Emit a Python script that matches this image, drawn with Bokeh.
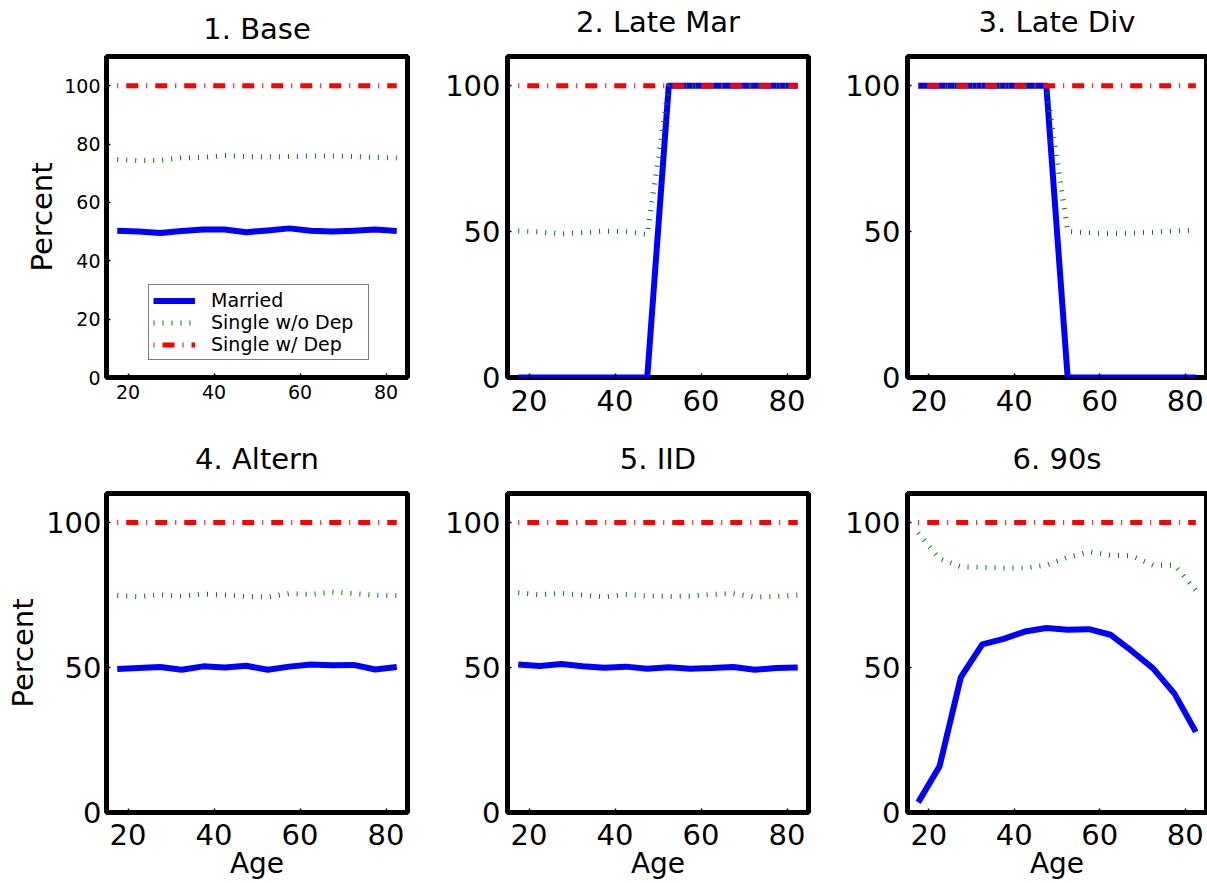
from bokeh.plotting import figure
from bokeh.models import Range1d, FixedTicker, Label
from bokeh.layouts import gridplot
from bokeh.embed import file_html
from bokeh.resources import INLINE

FONT = "DejaVu Sans"

ages = [17.5, 22.5, 27.5, 32.5, 37.5, 42.5, 47.5, 52.5, 57.5, 62.5, 67.5, 72.5, 77.5, 82.5]

titles = ["1. Base", "2. Late Mar", "3. Late Div", "4. Altern", "5. IID", "6. 90s"]
series_names = ["Married", "Single w/o Dep", "Single w/ Dep"]

married = {
    "1. Base":     [50.3, 50.0, 49.5, 50.2, 50.7, 50.7, 49.8, 50.4, 51.1, 50.3, 50.0, 50.3, 50.7, 50.2],
    "2. Late Mar": [0, 0, 0, 0, 0, 0, 0, 100, 100, 100, 100, 100, 100, 100],
    "3. Late Div": [100, 100, 100, 100, 100, 100, 100, 0, 0, 0, 0, 0, 0, 0],
    "4. Altern":   [49.5, 49.8, 50.2, 49.2, 50.4, 50.0, 50.6, 49.2, 50.3, 51.0, 50.8, 50.9, 49.3, 50.2],
    "5. IID":      [51.0, 50.5, 51.2, 50.4, 49.9, 50.3, 49.6, 50.1, 49.6, 49.8, 50.2, 49.2, 49.8, 50.0],
    "6. 90s":      [3.5, 15.9, 46.7, 58.0, 59.9, 62.4, 63.6, 63.0, 63.2, 61.3, 55.7, 49.7, 41.0, 27.8],
}
single_nodep = {
    "1. Base":     [74.7, 74.3, 74.4, 75.3, 75.4, 76.1, 75.7, 75.6, 75.7, 75.9, 75.9, 75.7, 75.4, 75.2],
    "2. Late Mar": [50.2, 49.9, 49.2, 49.6, 50.2, 50.0, 49.0, 100, 100, 100, 100, 100, 100, 100],
    "3. Late Div": [100, 100, 100, 100, 100, 100, 100, 50.0, 49.6, 49.3, 49.5, 49.8, 50.2, 50.5],
    "4. Altern":   [74.8, 74.4, 75.1, 74.6, 75.3, 75.0, 74.5, 74.3, 75.5, 75.2, 76.0, 75.5, 74.9, 74.8],
    "5. IID":      [75.8, 75.1, 75.6, 75.0, 74.3, 75.2, 74.7, 74.5, 74.6, 75.2, 75.5, 74.3, 74.5, 75.0],
    "6. 90s":      [96.4, 87.5, 84.7, 84.5, 84.3, 84.3, 85.3, 88.0, 89.9, 88.7, 88.5, 85.3, 85.3, 76.6],
}
single_dep = {
    "1. Base":     [100] * 14,
    "2. Late Mar": [100] * 14,
    "3. Late Div": [100] * 14,
    "4. Altern":   [100] * 14,
    "5. IID":      [100] * 14,
    "6. 90s":      [100] * 14,
}

x_ticks = [20, 40, 60, 80]
y_ticks_base = [0, 20, 40, 60, 80, 100]
y_ticks_other = [0, 50, 100]

col_w = [412, 401, 394]
col_bl = [106, 95, 94]
col_br = [5, 5, 1]
strip_h = [52, 59]
title_y = [[24, 31, 31], [31, 31, 31]]   # title anchor height inside the title strip
row_h = [378, 394]
row_bt = [4, 4]
row_bb = [53, 71]


def make_strip(i):
    r, c = divmod(i, 3)
    h = strip_h[r]
    s = figure(width=col_w[c], height=h,
               x_range=Range1d(0, 1), y_range=Range1d(0, h),
               x_axis_location=None, y_axis_location=None,
               output_backend="svg", toolbar_location=None,
               min_border_left=col_bl[c], min_border_right=col_br[c],
               min_border_top=0, min_border_bottom=0)
    s.outline_line_color = None
    s.xgrid.visible = False
    s.ygrid.visible = False
    s.background_fill_color = "white"
    s.border_fill_color = "white"
    s.add_layout(Label(x=0.5, y=title_y[r][c], text=titles[i],
                       text_align="center", text_baseline="alphabetic",
                       text_font=FONT, text_font_size="29px", text_color="black"))
    return s


def make_panel(i):
    r, c = divmod(i, 3)
    t = titles[i]
    small = (i == 0)
    p = figure(width=col_w[c], height=row_h[r],
               x_range=Range1d(15, 85), y_range=Range1d(0, 110),
               output_backend="svg", toolbar_location=None,
               min_border_left=col_bl[c], min_border_right=col_br[c],
               min_border_top=row_bt[r], min_border_bottom=row_bb[r])
    p.xgrid.visible = False
    p.ygrid.visible = False
    p.outline_line_color = "black"
    p.outline_line_width = 5
    p.outline_line_alpha = 1
    p.background_fill_color = "white"
    p.border_fill_color = "white"

    tick_size = "19px" if small else "29px"
    p.xaxis.ticker = FixedTicker(ticks=x_ticks)
    p.yaxis.ticker = FixedTicker(ticks=y_ticks_base if small else y_ticks_other)
    for ax in (p.xaxis[0], p.yaxis[0]):
        ax.axis_line_color = None
        ax.major_tick_in = 4
        ax.major_tick_out = 0
        ax.major_tick_line_width = 1.5
        ax.minor_tick_line_color = None
        ax.major_label_text_font = FONT
        ax.major_label_text_font_size = tick_size
        ax.major_label_text_color = "black"
        ax.axis_label_text_font = FONT
        ax.axis_label_text_font_size = "29px"
        ax.axis_label_text_font_style = "normal"
        ax.axis_label_text_color = "black"
    if small:
        p.yaxis.major_label_standoff = 6
    elif c == 0:
        p.yaxis.major_label_standoff = 5
    else:
        p.yaxis.major_label_standoff = 7
    if small:
        p.xaxis.major_label_standoff = 7
    elif r == 0:
        p.xaxis.major_label_standoff = 12
    else:
        p.xaxis.major_label_standoff = 11
    if c == 0:
        p.yaxis.axis_label = "Percent"
        p.yaxis.axis_label_standoff = 2 if small else 3
    if r == 1:
        p.xaxis.axis_label = "Age"
        p.xaxis.axis_label_text_font_size = "28px"
        p.xaxis.axis_label_standoff = -1

    kw = [
        dict(line_color="#0000ff", line_width=6, line_join="round"),
        dict(line_color="#008000", line_width=5, line_dash="1 8", line_cap="butt"),
        dict(line_color="#ff0000", line_width=5, line_dash="1 8 12 8", line_cap="butt"),
    ]
    data = [married[t], single_nodep[t], single_dep[t]]
    for name, ys, k in zip(series_names, data, kw):
        if small:
            p.line(ages, ys, legend_label=name, **k)
        else:
            p.line(ages, ys, **k)
    if small:
        lg = p.legend[0]
        lg.location = (42, 17)
        lg.border_line_color = "black"
        lg.border_line_width = 1
        lg.background_fill_color = "white"
        lg.background_fill_alpha = 1
        lg.label_text_font = FONT
        lg.label_text_font_size = "19px"
        lg.label_text_color = "black"
        lg.padding = 4
        lg.spacing = 0
        lg.margin = 0
        lg.glyph_width = 42
        lg.glyph_height = 21
        lg.label_height = 21
        lg.label_standoff = 16
        lg.label_width = 153
    return p


strips = [make_strip(i) for i in range(6)]
panels = [make_panel(i) for i in range(6)]
grid = gridplot([strips[0:3], panels[0:3], strips[3:6], panels[3:6]],
                toolbar_location=None)

open("out.html", "w").write(file_html(grid, INLINE))
